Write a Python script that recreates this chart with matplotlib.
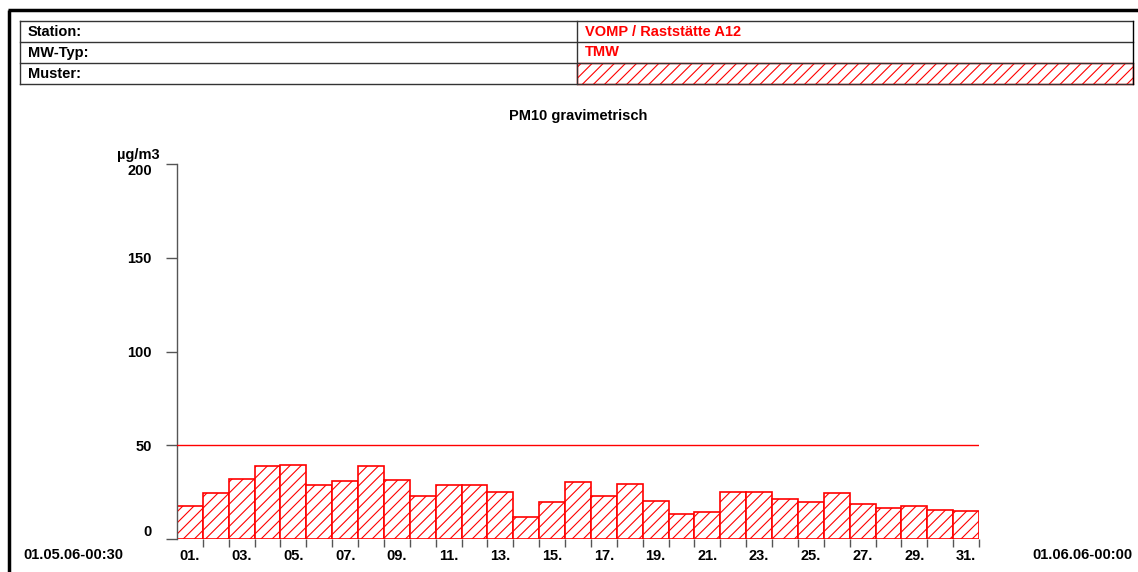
import numpy as np
import matplotlib
matplotlib.use("Agg")
import matplotlib.pyplot as plt
from matplotlib.patches import Rectangle

# ── data: PM10 daily means, May 2006 ─────────────────────────────────────────
DAYS = list(range(1, 32))
PM10 = [17.8, 24.7, 31.8, 38.9, 39.3, 28.6, 30.8, 38.9, 31.3, 23.1,
        28.6, 29.0, 25.1, 11.7, 19.6, 30.2, 23.1, 29.2, 20.4, 13.3,
        14.2, 25.2, 24.9, 21.2, 19.6, 24.4, 18.5, 16.4, 17.8, 15.3, 14.9]
LIMIT = 50
Y_TICKS = [0, 50, 100, 150, 200]
X_LABEL_DAYS = list(range(1, 32, 2))
X_LABELS = [f"{d:02d}." for d in X_LABEL_DAYS]

STATION = "VOMP / Raststätte A12"
MW_TYP = "TMW"
TITLE = "PM10 gravimetrisch"
UNIT = "µg/m3"
T_START = "01.05.06-00:30"
T_END = "01.06.06-00:00"

RED = "#ff0000"
GREY = "#555555"
FS = 10.5

plt.rcParams["font.family"] = ["Liberation Sans", "DejaVu Sans"]
plt.rcParams["font.weight"] = "bold"
plt.rcParams["hatch.linewidth"] = 0.8
plt.rcParams["hatch.color"] = RED

W, H = 1138, 572
fig = plt.figure(figsize=(W / 100, H / 100), dpi=100)

# ── page overlay in pixel coordinates (frame + header table) ─────────────────
page = fig.add_axes([0, 0, 1, 1])
page.set_xlim(0, W)
page.set_ylim(H, 0)
page.axis("off")

page.plot([8, W], [10, 10], color="black", lw=2.5, solid_capstyle="butt")
page.plot([9, 9], [10, H], color="black", lw=2.5, solid_capstyle="butt")

tx0, tx1, tdiv = 20, 1133, 577
rows = [20.5, 41.5, 62.5, 84]
page.add_patch(Rectangle((tdiv, rows[2]), tx1 - tdiv, rows[3] - rows[2],
                         facecolor="white", edgecolor=RED, hatch="///", lw=1.0))
for y in rows:
    page.plot([tx0, tx1], [y, y], color="#333333", lw=1.0)
page.plot([tx0, tx0], [rows[0], rows[-1]], color="#333333", lw=1.0)
page.plot([tx1, tx1], [rows[0], rows[-1]], color="black", lw=1.0)
page.plot([tdiv, tdiv], [rows[0], rows[-1]], color="#333333", lw=1.0)

for label, y in zip(["Station:", "MW-Typ:", "Muster:"], rows[:3]):
    page.text(tx0 + 8, y + 11, label, fontsize=FS, va="center", ha="left")
page.text(tdiv + 8, rows[0] + 11, STATION, fontsize=FS, color=RED, va="center")
page.text(tdiv + 8, rows[1] + 11, MW_TYP, fontsize=FS, color=RED, va="center")

page.text(578, 116, TITLE, fontsize=FS, ha="center", va="center")
page.text(160, 155, UNIT, fontsize=FS, ha="right", va="center")
page.text(23, 555, T_START, fontsize=FS, ha="left", va="center")
page.text(1133, 555, T_END, fontsize=FS, ha="right", va="center")

# ── bar chart ────────────────────────────────────────────────────────────────
x0, x1, y0, y1 = 177, 979, 539, 164
ax = fig.add_axes([x0 / W, (H - y0) / H, (x1 - x0) / W, (y0 - y1) / H])
ax.patch.set_alpha(0)

ax.bar(DAYS, PM10, width=1.0, facecolor="white", edgecolor=RED,
       hatch="///", linewidth=1.2, zorder=2)
ax.axhline(LIMIT, color=RED, lw=1.0, zorder=3)

ax.set_xlim(0.5, 31.5)
ax.set_ylim(0, 200)

for side in ["top", "right", "bottom"]:
    ax.spines[side].set_visible(False)
ax.spines["left"].set_color(GREY)
ax.spines["left"].set_linewidth(1.0)

ax.set_yticks(Y_TICKS)
ax.set_yticklabels([str(v) for v in Y_TICKS], fontsize=FS, fontweight="bold")
ax.tick_params(axis="y", length=8, width=1.0, color=GREY, pad=10)
ylabels = ax.get_yticklabels()
ylabels[0].set_verticalalignment("bottom")
ylabels[-1].set_verticalalignment("top")

# day boundaries carry the tick marks, odd days carry the labels
ax.set_xticks(np.arange(1.5, 32, 1.0))
ax.set_xticklabels([])
ax.tick_params(axis="x", which="major", length=6, width=1.0, color=GREY)
ax.set_xticks(X_LABEL_DAYS, minor=True)
ax.set_xticklabels(X_LABELS, minor=True, fontsize=FS, fontweight="bold")
ax.tick_params(axis="x", which="minor", length=0, pad=7)

fig.savefig("out.png", dpi=100)
